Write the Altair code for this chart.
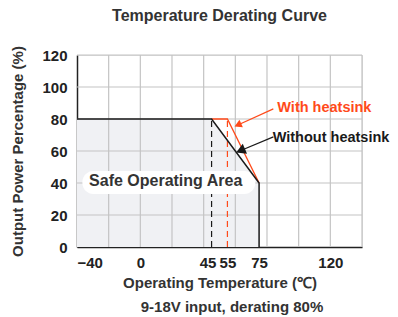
import altair as alt
import pandas as pd

# ---- data ----
without_t = [-40, 45, 75, 75]
without_p = [80, 80, 40, 0]
with_t = [45, 55, 75]
with_p = [80, 80, 40]
area_t = [-40, 45, 75]
area_p = [80, 80, 40]
x_tick_values = [-40, 0, 45, 55, 75, 120]
y_tick_values = [0, 20, 40, 60, 80, 100, 120]
grid_x = [-20, 0, 20, 40, 60, 80, 100, 120, 140]
grid_y = [20, 40, 60, 80, 100, 120]
dash_t = [45, 55]
dash_p = [80, 80]
dash_colors = ["#1a1a1a", "#ff4a1a"]

# annotation arrows (data coords)
arrow_x = [84.0, 84.0]
arrow_y = [86.3, 68.8]
arrow_x2 = [62.3, 64.2]
arrow_y2 = [76.6, 60.6]
arrow_angle = [246, 247]
arrow_size = [70, 120]
arrow_colors = ["#ff4a1a", "#1a1a1a"]
label_text = ["With heatsink", "Without heatsink"]
label_x = [86.5, 83.6]
label_y = [86.9, 68.1]

FONT = "Liberation Sans"
RED = "#ff4a1a"
BLACK = "#1a1a1a"

x_scale = alt.Scale(domain=[-40, 140], nice=False, zero=False)
y_scale = alt.Scale(domain=[0, 120], nice=False)
x_axis = alt.Axis(values=x_tick_values, grid=False, ticks=False, labelPadding=8,
                  labelOffset=alt.condition("datum.value == 45", alt.value(-4), alt.value(0)),
                  labelFont=FONT, labelFontSize=15, labelFontWeight="bold", labelColor="#222",
                  domainColor="#222", domainWidth=1.5,
                  title="Operating Temperature (℃)", titleFont=FONT, titleFontSize=15,
                  titleFontWeight="bold", titleColor="#333", titlePadding=5)
y_axis = alt.Axis(values=y_tick_values, grid=False, ticks=False, labelPadding=10,
                  labelFont=FONT, labelFontSize=15, labelFontWeight="bold", labelColor="#222",
                  domainColor="#222", domainWidth=1.5,
                  title="Output Power Percentage (%)", titleFont=FONT, titleFontSize=15,
                  titleFontWeight="bold", titleColor="#333", titlePadding=16)


def X(f):
    return alt.X(f, type="quantitative", scale=x_scale, axis=x_axis)


def Y(f):
    return alt.Y(f, type="quantitative", scale=y_scale, axis=y_axis)


area_df = pd.DataFrame({"t": area_t, "p": area_p, "base": [0] * len(area_t)})
area = alt.Chart(area_df).mark_area(color="#f0f1f4").encode(x=X("t"), y=Y("p"), y2="base")

gx_df = pd.DataFrame({"t": grid_x, "p0": [0] * len(grid_x), "p1": [120] * len(grid_x)})
gridx = alt.Chart(gx_df).mark_rule(color="#c4c4c4", strokeWidth=1.2).encode(x=X("t"), y=Y("p0"), y2="p1")

gy_df = pd.DataFrame({"p": grid_y, "t0": [-40] * len(grid_y), "t1": [140] * len(grid_y)})
gridy = alt.Chart(gy_df).mark_rule(color="#c4c4c4", strokeWidth=1.2).encode(y=Y("p"), x=X("t0"), x2="t1")

box_df = pd.DataFrame({"t0": [-36.6], "t1": [72.6], "p0": [33.1], "p1": [47.5]})
box = alt.Chart(box_df).mark_rect(color="white", cornerRadius=11).encode(
    x=X("t0"), x2="t1", y=Y("p0"), y2="p1")

dash_df = pd.DataFrame({"t": dash_t, "p": dash_p, "base": [0, 0], "c": dash_colors})
dashes = alt.Chart(dash_df).mark_rule(strokeDash=[6, 4], strokeWidth=1.2).encode(
    x=X("t"), y=Y("base"), y2="p", color=alt.Color("c:N", scale=None))

wo_df = pd.DataFrame({"t": without_t, "p": without_p, "i": range(len(without_t))})
line_wo = alt.Chart(wo_df).mark_line(color=BLACK, strokeWidth=1.5).encode(
    x=X("t"), y=Y("p"), order="i:Q")

w_df = pd.DataFrame({"t": with_t, "p": with_p, "i": range(len(with_t))})
line_w = alt.Chart(w_df).mark_line(color=RED, strokeWidth=1.3).encode(
    x=X("t"), y=Y("p"), order="i:Q")

arr_df = pd.DataFrame({"x": arrow_x, "y": arrow_y, "x2": arrow_x2, "y2": arrow_y2,
                       "a": arrow_angle, "s": arrow_size, "c": arrow_colors})
arrows = alt.Chart(arr_df).mark_rule(strokeWidth=1.2).encode(
    x=X("x"), y=Y("y"), x2="x2", y2="y2", color=alt.Color("c:N", scale=None))
heads = alt.Chart(arr_df).mark_point(shape="triangle", filled=True, opacity=1).encode(
    x=X("x2"), y=Y("y2"), angle=alt.Angle("a:Q", scale=None),
    size=alt.Size("s:Q", scale=None), color=alt.Color("c:N", scale=None))

lab_df = pd.DataFrame({"x": label_x, "y": label_y, "txt": label_text, "c": arrow_colors})
labels = alt.Chart(lab_df).mark_text(align="left", baseline="middle", font=FONT,
                                     fontSize=14.5, fontWeight="bold").encode(
    x=X("x"), y=Y("y"), text="txt:N", color=alt.Color("c:N", scale=None))

safe_df = pd.DataFrame({"x": [16], "y": [41], "txt": ["Safe Operating Area"]})
safe = alt.Chart(safe_df).mark_text(align="center", baseline="middle", font=FONT,
                                    fontSize=16, fontWeight="bold", color="#333").encode(
    x=X("x"), y=Y("y"), text="txt:N")

sub_df = pd.DataFrame({"txt": ["9-18V input, derating 80%"]})
subtitle = alt.Chart(sub_df).mark_text(align="center", baseline="middle", font=FONT,
                                       fontSize=15, fontWeight="bold", color="#333").encode(
    x=alt.value(155), y=alt.value(252), text="txt:N")

chart = alt.layer(area, gridx, gridy, dashes, box, line_w, line_wo, arrows, heads, labels, safe, subtitle).properties(
    width=285, height=192,
    padding={"left": 69, "top": 47, "right": 28, "bottom": 70},
    autosize=alt.AutoSizeParams(type="none"),
    title=alt.TitleParams("Temperature Derating Curve", font=FONT, fontSize=16, fontWeight="bold",
                          color="#333", offset=22, anchor="middle"),
).configure_view(stroke=None).configure(background="white")

chart.save("out.html", embed_options={"renderer": "svg", "actions": False})
